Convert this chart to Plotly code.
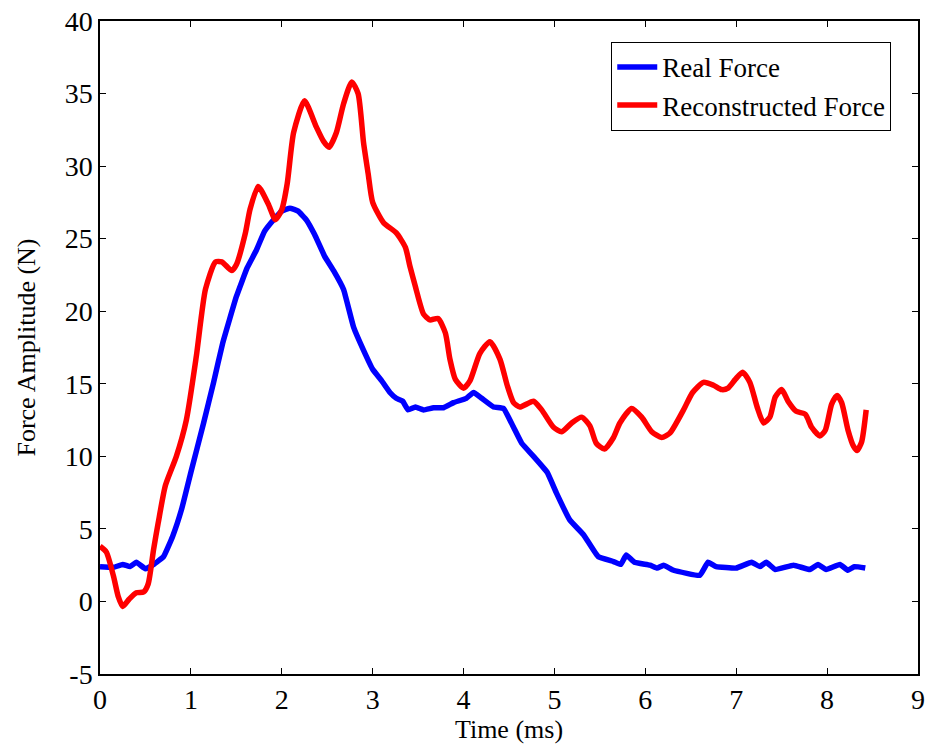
import plotly.graph_objects as go

# Measured force signals (time in ms, amplitude in N)
real_t = [0.0, 0.15, 0.25, 0.33, 0.4, 0.5, 0.59, 0.7, 0.8, 0.9, 1.0, 1.14, 1.25, 1.35, 1.5,
          1.62, 1.72, 1.81, 1.91, 2.0, 2.09, 2.18, 2.27, 2.36, 2.47, 2.57, 2.68, 2.79, 2.9,
          3.0, 3.1, 3.19, 3.26, 3.33, 3.39, 3.47, 3.56, 3.67, 3.78, 3.89, 4.03, 4.11, 4.2,
          4.33, 4.44, 4.55, 4.64, 4.77, 4.92, 5.02, 5.17, 5.32, 5.48, 5.65, 5.73, 5.79, 5.88,
          6.05, 6.13, 6.2, 6.31, 6.6, 6.69, 6.78, 7.0, 7.17, 7.26, 7.33, 7.43, 7.63, 7.81,
          7.9, 7.99, 8.14, 8.23, 8.3, 8.42]
real_f = [2.4, 2.35, 2.55, 2.4, 2.7, 2.25, 2.55, 3.1, 4.5, 6.4, 8.9, 12.3, 15.1, 17.8, 21.0,
          23.0, 24.2, 25.5, 26.3, 26.9, 27.1, 26.9, 26.3, 25.3, 23.8, 22.8, 21.5, 18.9, 17.3,
          16.0, 15.2, 14.4, 14.0, 13.8, 13.2, 13.4, 13.2, 13.35, 13.35, 13.7, 14.0, 14.4, 14.0,
          13.4, 13.3, 12.0, 10.9, 10.0, 8.9, 7.5, 5.6, 4.6, 3.1, 2.75, 2.55, 3.2, 2.7,
          2.5, 2.3, 2.5, 2.15, 1.8, 2.7, 2.4, 2.3, 2.7, 2.4, 2.7, 2.2, 2.5, 2.2,
          2.55, 2.2, 2.55, 2.15, 2.4, 2.3]

rec_t = [0.0, 0.07, 0.15, 0.2, 0.25, 0.32, 0.4, 0.48, 0.53, 0.59, 0.64, 0.72, 0.84, 0.95,
         1.06, 1.16, 1.27, 1.34, 1.45, 1.5, 1.6, 1.65, 1.74, 1.85, 1.93, 2.0, 2.06, 2.13,
         2.25, 2.38, 2.46, 2.52, 2.6, 2.68, 2.77, 2.84, 2.9, 2.95, 3.0, 3.12, 3.26, 3.36,
         3.41, 3.47, 3.56, 3.63, 3.72, 3.8, 3.85, 3.91, 4.0, 4.07, 4.18, 4.29, 4.4, 4.48,
         4.55, 4.62, 4.77, 4.86, 4.99, 5.08, 5.19, 5.3, 5.39, 5.46, 5.55, 5.65, 5.72, 5.85,
         5.96, 6.07, 6.18, 6.27, 6.42, 6.52, 6.64, 6.75, 6.84, 6.91, 6.99, 7.07, 7.15, 7.23,
         7.3, 7.37, 7.43, 7.5, 7.57, 7.66, 7.76, 7.83, 7.92, 7.98, 8.05, 8.11, 8.16, 8.23,
         8.29, 8.33, 8.38, 8.43]
rec_f = [3.8, 3.4, 1.7, 0.35, -0.35, 0.15, 0.6, 0.65, 1.2, 3.6, 5.4, 8.0, 10.0, 12.5,
         16.9, 21.5, 23.4, 23.4, 22.8, 23.2, 25.4, 27.0, 28.6, 27.4, 26.3, 27.0, 28.8, 32.3,
         34.5, 32.7, 31.7, 31.3, 32.3, 34.3, 35.8, 35.0, 31.6, 29.5, 27.5, 26.1, 25.4, 24.4,
         23.1, 21.7, 19.8, 19.4, 19.5, 18.5, 16.7, 15.3, 14.7, 15.2, 17.1, 17.9, 16.7, 14.9,
         13.7, 13.4, 13.8, 13.2, 12.0, 11.7, 12.3, 12.7, 12.1, 10.9, 10.5, 11.3, 12.3, 13.3,
         12.7, 11.7, 11.3, 11.6, 13.2, 14.4, 15.1, 14.9, 14.6, 14.7, 15.3, 15.8, 15.1, 13.4,
         12.3, 12.7, 14.1, 14.6, 13.8, 13.1, 12.9, 12.0, 11.4, 11.8, 13.6, 14.2, 13.7, 11.8,
         10.7, 10.4, 11.0, 13.2]

x_ticks = list(range(0, 10))
y_ticks = list(range(-5, 41, 5))

FONT = "Liberation Serif, Times New Roman, serif"

fig = go.Figure()
fig.add_trace(go.Scatter(x=real_t, y=real_f, mode="lines", name="Real Force",
                         line=dict(color="#0000ff", width=5.5, shape="spline", smoothing=0.3)))
fig.add_trace(go.Scatter(x=rec_t, y=rec_f, mode="lines", name="Reconstructed Force",
                         line=dict(color="#ff0000", width=5.5, shape="spline", smoothing=0.6)))

axis_common = dict(showline=True, linecolor="black", linewidth=1.5, mirror="ticks",
                   ticks="inside", ticklen=6, tickcolor="black", tickwidth=1,
                   showgrid=False, zeroline=False, automargin=False,
                   tickfont=dict(family=FONT, size=28, color="black"))

fig.update_layout(
    width=929, height=744,
    margin=dict(l=100, r=11, t=21, b=70),
    paper_bgcolor="white", plot_bgcolor="white",
    font=dict(family=FONT, size=26, color="black"),
    xaxis=dict(range=[0, 9], tickvals=x_ticks, ticktext=[str(v) for v in x_ticks],
               title=dict(text="Time (ms)", font=dict(family=FONT, size=26), standoff=7),
               **axis_common),
    yaxis=dict(range=[-5, 40], tickvals=y_ticks, ticktext=[str(v) for v in y_ticks],
               title=dict(text="Force Amplitude (N)", font=dict(family=FONT, size=26), standoff=22),
               **axis_common),
    legend=dict(x=0.625, y=0.968, xanchor="left", yanchor="top",
                bordercolor="black", borderwidth=1, bgcolor="white",
                font=dict(family=FONT, size=27, color="black"),
                tracegroupgap=0, itemwidth=40),
    showlegend=True,
)

fig.write_html("out.html")
